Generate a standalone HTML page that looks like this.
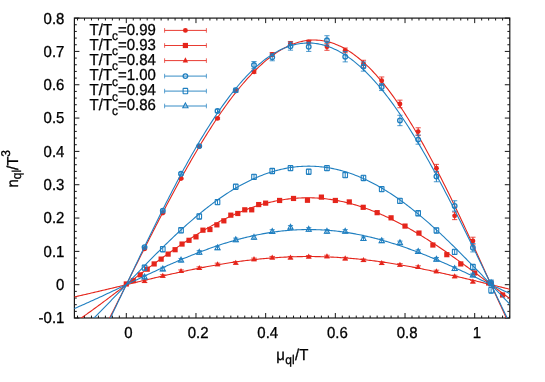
<!DOCTYPE html>
<html><head><meta charset="utf-8"><title>n_ql/T^3 vs mu_ql/T</title>
<style>html,body{margin:0;padding:0;background:#fff;}body{width:545px;height:382px;overflow:hidden;font-family:"Liberation Sans",sans-serif;}svg{display:block;will-change:transform}</style>
</head><body>
<svg width="545" height="382" viewBox="0 0 545 382" font-family="Liberation Sans, sans-serif" font-size="15.84px" text-rendering="geometricPrecision" fill="#000">
<rect width="545" height="382" fill="#fff"/>
<defs><clipPath id="c"><rect x="74.4" y="18.1" width="435.4" height="299.9"/></clipPath></defs>
<path d="M77.52 318.0v-2.4M77.52 18.1v2.4M84.49 318.0v-2.4M84.49 18.1v2.4M91.46 318.0v-2.4M91.46 18.1v2.4M98.43 318.0v-2.4M98.43 18.1v2.4M105.40 318.0v-2.4M105.40 18.1v2.4M112.36 318.0v-2.4M112.36 18.1v2.4M119.33 318.0v-2.4M119.33 18.1v2.4M126.30 318.0v-5M126.30 18.1v5M133.27 318.0v-2.4M133.27 18.1v2.4M140.24 318.0v-2.4M140.24 18.1v2.4M147.20 318.0v-2.4M147.20 18.1v2.4M154.17 318.0v-2.4M154.17 18.1v2.4M161.14 318.0v-2.4M161.14 18.1v2.4M168.11 318.0v-2.4M168.11 18.1v2.4M175.08 318.0v-2.4M175.08 18.1v2.4M182.04 318.0v-2.4M182.04 18.1v2.4M189.01 318.0v-2.4M189.01 18.1v2.4M195.98 318.0v-5M195.98 18.1v5M202.95 318.0v-2.4M202.95 18.1v2.4M209.92 318.0v-2.4M209.92 18.1v2.4M216.88 318.0v-2.4M216.88 18.1v2.4M223.85 318.0v-2.4M223.85 18.1v2.4M230.82 318.0v-2.4M230.82 18.1v2.4M237.79 318.0v-2.4M237.79 18.1v2.4M244.76 318.0v-2.4M244.76 18.1v2.4M251.72 318.0v-2.4M251.72 18.1v2.4M258.69 318.0v-2.4M258.69 18.1v2.4M265.66 318.0v-5M265.66 18.1v5M272.63 318.0v-2.4M272.63 18.1v2.4M279.60 318.0v-2.4M279.60 18.1v2.4M286.56 318.0v-2.4M286.56 18.1v2.4M293.53 318.0v-2.4M293.53 18.1v2.4M300.50 318.0v-2.4M300.50 18.1v2.4M307.47 318.0v-2.4M307.47 18.1v2.4M314.44 318.0v-2.4M314.44 18.1v2.4M321.40 318.0v-2.4M321.40 18.1v2.4M328.37 318.0v-2.4M328.37 18.1v2.4M335.34 318.0v-5M335.34 18.1v5M342.31 318.0v-2.4M342.31 18.1v2.4M349.28 318.0v-2.4M349.28 18.1v2.4M356.24 318.0v-2.4M356.24 18.1v2.4M363.21 318.0v-2.4M363.21 18.1v2.4M370.18 318.0v-2.4M370.18 18.1v2.4M377.15 318.0v-2.4M377.15 18.1v2.4M384.12 318.0v-2.4M384.12 18.1v2.4M391.08 318.0v-2.4M391.08 18.1v2.4M398.05 318.0v-2.4M398.05 18.1v2.4M405.02 318.0v-5M405.02 18.1v5M411.99 318.0v-2.4M411.99 18.1v2.4M418.96 318.0v-2.4M418.96 18.1v2.4M425.92 318.0v-2.4M425.92 18.1v2.4M432.89 318.0v-2.4M432.89 18.1v2.4M439.86 318.0v-2.4M439.86 18.1v2.4M446.83 318.0v-2.4M446.83 18.1v2.4M453.80 318.0v-2.4M453.80 18.1v2.4M460.76 318.0v-2.4M460.76 18.1v2.4M467.73 318.0v-2.4M467.73 18.1v2.4M474.70 318.0v-5M474.70 18.1v5M481.67 318.0v-2.4M481.67 18.1v2.4M488.64 318.0v-2.4M488.64 18.1v2.4M495.60 318.0v-2.4M495.60 18.1v2.4M502.57 318.0v-2.4M502.57 18.1v2.4M509.54 318.0v-2.4M509.54 18.1v2.4M74.4 318.02h5M509.8 318.02h-5M74.4 311.36h2.4M509.8 311.36h-2.4M74.4 304.69h2.4M509.8 304.69h-2.4M74.4 298.03h2.4M509.8 298.03h-2.4M74.4 291.37h2.4M509.8 291.37h-2.4M74.4 284.70h5M509.8 284.70h-5M74.4 278.03h2.4M509.8 278.03h-2.4M74.4 271.37h2.4M509.8 271.37h-2.4M74.4 264.70h2.4M509.8 264.70h-2.4M74.4 258.04h2.4M509.8 258.04h-2.4M74.4 251.38h5M509.8 251.38h-5M74.4 244.71h2.4M509.8 244.71h-2.4M74.4 238.04h2.4M509.8 238.04h-2.4M74.4 231.38h2.4M509.8 231.38h-2.4M74.4 224.71h2.4M509.8 224.71h-2.4M74.4 218.05h5M509.8 218.05h-5M74.4 211.38h2.4M509.8 211.38h-2.4M74.4 204.72h2.4M509.8 204.72h-2.4M74.4 198.06h2.4M509.8 198.06h-2.4M74.4 191.39h2.4M509.8 191.39h-2.4M74.4 184.72h5M509.8 184.72h-5M74.4 178.06h2.4M509.8 178.06h-2.4M74.4 171.39h2.4M509.8 171.39h-2.4M74.4 164.73h2.4M509.8 164.73h-2.4M74.4 158.06h2.4M509.8 158.06h-2.4M74.4 151.40h5M509.8 151.40h-5M74.4 144.73h2.4M509.8 144.73h-2.4M74.4 138.07h2.4M509.8 138.07h-2.4M74.4 131.40h2.4M509.8 131.40h-2.4M74.4 124.74h2.4M509.8 124.74h-2.4M74.4 118.07h5M509.8 118.07h-5M74.4 111.41h2.4M509.8 111.41h-2.4M74.4 104.74h2.4M509.8 104.74h-2.4M74.4 98.08h2.4M509.8 98.08h-2.4M74.4 91.41h2.4M509.8 91.41h-2.4M74.4 84.75h5M509.8 84.75h-5M74.4 78.08h2.4M509.8 78.08h-2.4M74.4 71.42h2.4M509.8 71.42h-2.4M74.4 64.75h2.4M509.8 64.75h-2.4M74.4 58.09h2.4M509.8 58.09h-2.4M74.4 51.42h5M509.8 51.42h-5M74.4 44.76h2.4M509.8 44.76h-2.4M74.4 38.09h2.4M509.8 38.09h-2.4M74.4 31.43h2.4M509.8 31.43h-2.4M74.4 24.76h2.4M509.8 24.76h-2.4M74.4 18.10h5M509.8 18.10h-5" stroke="#161616" stroke-width="1" fill="none"/>
<rect x="74.4" y="18.1" width="435.4" height="299.9" fill="none" stroke="#161616" stroke-width="1.2"/>
<text transform="translate(128.40 338.40) scale(0.945 1)" text-anchor="middle" stroke="#000" stroke-width="0.3">0</text>
<text transform="translate(198.08 338.40) scale(0.945 1)" text-anchor="middle" stroke="#000" stroke-width="0.3">0.2</text>
<text transform="translate(267.76 338.40) scale(0.945 1)" text-anchor="middle" stroke="#000" stroke-width="0.3">0.4</text>
<text transform="translate(337.44 338.40) scale(0.945 1)" text-anchor="middle" stroke="#000" stroke-width="0.3">0.6</text>
<text transform="translate(407.12 338.40) scale(0.945 1)" text-anchor="middle" stroke="#000" stroke-width="0.3">0.8</text>
<text transform="translate(476.80 338.40) scale(0.945 1)" text-anchor="middle" stroke="#000" stroke-width="0.3">1</text>
<text transform="translate(64.40 323.42) scale(0.945 1)" text-anchor="end" stroke="#000" stroke-width="0.3">-0.1</text>
<text transform="translate(64.40 290.10) scale(0.945 1)" text-anchor="end" stroke="#000" stroke-width="0.3">0</text>
<text transform="translate(64.40 256.77) scale(0.945 1)" text-anchor="end" stroke="#000" stroke-width="0.3">0.1</text>
<text transform="translate(64.40 223.45) scale(0.945 1)" text-anchor="end" stroke="#000" stroke-width="0.3">0.2</text>
<text transform="translate(64.40 190.12) scale(0.945 1)" text-anchor="end" stroke="#000" stroke-width="0.3">0.3</text>
<text transform="translate(64.40 156.80) scale(0.945 1)" text-anchor="end" stroke="#000" stroke-width="0.3">0.4</text>
<text transform="translate(64.40 123.47) scale(0.945 1)" text-anchor="end" stroke="#000" stroke-width="0.3">0.5</text>
<text transform="translate(64.40 90.15) scale(0.945 1)" text-anchor="end" stroke="#000" stroke-width="0.3">0.6</text>
<text transform="translate(64.40 56.83) scale(0.945 1)" text-anchor="end" stroke="#000" stroke-width="0.3">0.7</text>
<text transform="translate(64.40 23.50) scale(0.945 1)" text-anchor="end" stroke="#000" stroke-width="0.3">0.8</text>
<text transform="translate(276.20 359.80) scale(0.945 1)" text-anchor="start" stroke="#000" stroke-width="0.3">μ<tspan dx="0.5" dy="3.8" font-size="12.7px">ql</tspan><tspan dx="0.5" dy="-3.8">/T</tspan></text>
<text transform="translate(17.50 187.60) rotate(-90) scale(0.945 1)" text-anchor="start" stroke="#000" stroke-width="0.3">n<tspan dy="3.8" font-size="12.7px">ql</tspan><tspan dy="-3.8">/T</tspan><tspan dy="-7.4" font-size="12.7px">3</tspan></text>
<g clip-path="url(#c)">
<path d="M144.54 248.49V249.29" stroke="#e5251b" stroke-width="1" fill="none"/><path d="M141.94 248.49h5.2M141.94 249.29h5.2" stroke="#e5251b" stroke-width="0.8" fill="none"/><path d="M162.78 212.49V213.49" stroke="#e5251b" stroke-width="1" fill="none"/><path d="M160.18 212.49h5.2M160.18 213.49h5.2" stroke="#e5251b" stroke-width="0.8" fill="none"/><path d="M181.03 177.99V179.19" stroke="#e5251b" stroke-width="1" fill="none"/><path d="M178.43 177.99h5.2M178.43 179.19h5.2" stroke="#e5251b" stroke-width="0.8" fill="none"/><path d="M199.27 145.82V147.22" stroke="#e5251b" stroke-width="1" fill="none"/><path d="M196.67 145.82h5.2M196.67 147.22h5.2" stroke="#e5251b" stroke-width="0.8" fill="none"/><path d="M217.51 117.50V119.30" stroke="#e5251b" stroke-width="1" fill="none"/><path d="M214.91 117.50h5.2M214.91 119.30h5.2" stroke="#e5251b" stroke-width="0.8" fill="none"/><path d="M235.75 89.81V92.01" stroke="#e5251b" stroke-width="1" fill="none"/><path d="M233.15 89.81h5.2M233.15 92.01h5.2" stroke="#e5251b" stroke-width="0.8" fill="none"/><path d="M254.00 70.24V73.24" stroke="#e5251b" stroke-width="1" fill="none"/><path d="M251.40 70.24h5.2M251.40 73.24h5.2" stroke="#e5251b" stroke-width="0.8" fill="none"/><path d="M272.24 52.51V56.51" stroke="#e5251b" stroke-width="1" fill="none"/><path d="M269.64 52.51h5.2M269.64 56.51h5.2" stroke="#e5251b" stroke-width="0.8" fill="none"/><path d="M290.48 41.48V45.48" stroke="#e5251b" stroke-width="1" fill="none"/><path d="M287.88 41.48h5.2M287.88 45.48h5.2" stroke="#e5251b" stroke-width="0.8" fill="none"/><path d="M308.72 40.18V43.78" stroke="#e5251b" stroke-width="1" fill="none"/><path d="M306.12 40.18h5.2M306.12 43.78h5.2" stroke="#e5251b" stroke-width="0.8" fill="none"/><path d="M326.96 43.32V50.32" stroke="#e5251b" stroke-width="1" fill="none"/><path d="M324.36 43.32h5.2M324.36 50.32h5.2" stroke="#e5251b" stroke-width="0.8" fill="none"/><path d="M345.21 48.00V52.80" stroke="#e5251b" stroke-width="1" fill="none"/><path d="M342.61 48.00h5.2M342.61 52.80h5.2" stroke="#e5251b" stroke-width="0.8" fill="none"/><path d="M363.45 60.29V67.69" stroke="#e5251b" stroke-width="1" fill="none"/><path d="M360.85 60.29h5.2M360.85 67.69h5.2" stroke="#e5251b" stroke-width="0.8" fill="none"/><path d="M381.69 76.96V84.56" stroke="#e5251b" stroke-width="1" fill="none"/><path d="M379.09 76.96h5.2M379.09 84.56h5.2" stroke="#e5251b" stroke-width="0.8" fill="none"/><path d="M399.93 100.14V107.74" stroke="#e5251b" stroke-width="1" fill="none"/><path d="M397.33 100.14h5.2M397.33 107.74h5.2" stroke="#e5251b" stroke-width="0.8" fill="none"/><path d="M418.17 127.79V135.39" stroke="#e5251b" stroke-width="1" fill="none"/><path d="M415.57 127.79h5.2M415.57 135.39h5.2" stroke="#e5251b" stroke-width="0.8" fill="none"/><path d="M436.42 164.37V171.97" stroke="#e5251b" stroke-width="1" fill="none"/><path d="M433.82 164.37h5.2M433.82 171.97h5.2" stroke="#e5251b" stroke-width="0.8" fill="none"/><path d="M454.66 212.03V219.63" stroke="#e5251b" stroke-width="1" fill="none"/><path d="M452.06 212.03h5.2M452.06 219.63h5.2" stroke="#e5251b" stroke-width="0.8" fill="none"/><path d="M472.90 237.21V244.81" stroke="#e5251b" stroke-width="1" fill="none"/><path d="M470.30 237.21h5.2M470.30 244.81h5.2" stroke="#e5251b" stroke-width="0.8" fill="none"/><path d="M491.14 280.96V284.96" stroke="#e5251b" stroke-width="1" fill="none"/><path d="M488.54 280.96h5.2M488.54 284.96h5.2" stroke="#e5251b" stroke-width="0.8" fill="none"/><polyline points="70.56,392.81 72.03,390.14 73.51,387.44 74.98,384.74 76.46,382.02 77.93,379.29 79.41,376.54 80.88,373.78 82.36,371.01 83.83,368.23 85.30,365.43 86.78,362.63 88.25,359.81 89.73,356.98 91.20,354.15 92.68,351.30 94.15,348.44 95.63,345.58 97.10,342.70 98.58,339.82 100.05,336.93 101.53,334.04 103.00,331.14 104.48,328.23 105.95,325.31 107.43,322.39 108.90,319.46 110.38,316.53 111.85,313.60 113.33,310.66 114.80,307.72 116.28,304.77 117.75,301.82 119.23,298.87 120.70,295.92 122.18,292.96 123.65,290.01 125.13,287.05 126.60,284.09 128.08,281.14 129.55,278.18 131.03,275.23 132.50,272.27 133.98,269.32 135.45,266.37 136.93,263.42 138.40,260.48 139.88,257.54 141.35,254.60 142.83,251.67 144.30,248.74 145.78,245.81 147.25,242.90 148.73,239.98 150.20,237.08 151.68,234.18 153.15,231.28 154.62,228.40 156.10,225.52 157.57,222.65 159.05,219.79 160.52,216.93 162.00,214.09 163.47,211.26 164.95,208.44 166.42,205.62 167.90,202.82 169.37,200.03 170.85,197.25 172.32,194.49 173.80,191.73 175.27,188.99 176.75,186.27 178.22,183.55 179.70,180.85 181.17,178.17 182.65,175.50 184.12,172.84 185.60,170.20 187.07,167.58 188.55,164.97 190.02,162.38 191.50,159.81 192.97,157.26 194.45,154.72 195.92,152.20 197.40,149.70 198.87,147.22 200.35,144.76 201.82,142.32 203.30,139.90 204.77,137.50 206.25,135.12 207.72,132.76 209.20,130.42 210.67,128.11 212.15,125.82 213.62,123.55 215.10,121.30 216.57,119.08 218.05,116.88 219.52,114.71 221.00,112.56 222.47,110.44 223.94,108.34 225.42,106.26 226.89,104.22 228.37,102.20 229.84,100.20 231.32,98.23 232.79,96.29 234.27,94.38 235.74,92.50 237.22,90.64 238.69,88.81 240.17,87.02 241.64,85.25 243.12,83.51 244.59,81.80 246.07,80.12 247.54,78.47 249.02,76.85 250.49,75.27 251.97,73.71 253.44,72.19 254.92,70.70 256.39,69.24 257.87,67.81 259.34,66.41 260.82,65.05 262.29,63.73 263.77,62.43 265.24,61.17 266.72,59.95 268.19,58.75 269.67,57.60 271.14,56.48 272.62,55.39 274.09,54.34 275.57,53.32 277.04,52.34 278.52,51.40 279.99,50.49 281.47,49.62 282.94,48.78 284.42,47.98 285.89,47.22 287.37,46.50 288.84,45.81 290.32,45.17 291.79,44.55 293.26,43.98 294.74,43.45 296.21,42.95 297.69,42.49 299.16,42.07 300.64,41.69 302.11,41.35 303.59,41.04 305.06,40.78 306.54,40.56 308.01,40.37 309.49,40.22 310.96,40.12 312.44,40.05 313.91,40.02 315.39,40.03 316.86,40.08 318.34,40.18 319.81,40.31 321.29,40.48 322.76,40.69 324.24,40.94 325.71,41.23 327.19,41.56 328.66,41.94 330.14,42.35 331.61,42.80 333.09,43.29 334.56,43.82 336.04,44.40 337.51,45.01 338.99,45.66 340.46,46.35 341.94,47.08 343.41,47.86 344.89,48.67 346.36,49.52 347.84,50.41 349.31,51.34 350.79,52.31 352.26,53.32 353.74,54.37 355.21,55.45 356.69,56.58 358.16,57.75 359.64,58.95 361.11,60.19 362.58,61.47 364.06,62.79 365.53,64.15 367.01,65.55 368.48,66.98 369.96,68.45 371.43,69.96 372.91,71.50 374.38,73.08 375.86,74.70 377.33,76.36 378.81,78.05 380.28,79.78 381.76,81.54 383.23,83.34 384.71,85.17 386.18,87.04 387.66,88.94 389.13,90.88 390.61,92.85 392.08,94.86 393.56,96.89 395.03,98.97 396.51,101.07 397.98,103.21 399.46,105.37 400.93,107.58 402.41,109.81 403.88,112.07 405.36,114.36 406.83,116.69 408.31,119.04 409.78,121.42 411.26,123.84 412.73,126.28 414.21,128.75 415.68,131.24 417.16,133.77 418.63,136.32 420.11,138.90 421.58,141.50 423.06,144.13 424.53,146.79 426.01,149.47 427.48,152.17 428.96,154.90 430.43,157.65 431.90,160.43 433.38,163.22 434.85,166.04 436.33,168.88 437.80,171.74 439.28,174.63 440.75,177.53 442.23,180.45 443.70,183.39 445.18,186.35 446.65,189.32 448.13,192.32 449.60,195.33 451.08,198.35 452.55,201.40 454.03,204.45 455.50,207.53 456.98,210.61 458.45,213.71 459.93,216.82 461.40,219.95 462.88,223.09 464.35,226.23 465.83,229.39 467.30,232.56 468.78,235.74 470.25,238.93 471.73,242.12 473.20,245.33 474.68,248.54 476.15,251.76 477.63,254.98 479.10,258.21 480.58,261.44 482.05,264.68 483.53,267.92 485.00,271.17 486.48,274.41 487.95,277.66 489.43,280.91 490.90,284.16 492.38,287.42 493.85,290.67 495.33,293.92 496.80,297.16 498.28,300.41 499.75,303.65 501.22,306.89 502.70,310.13 504.17,313.36 505.65,316.58 507.12,319.80 508.60,323.01 510.07,326.22 511.55,329.42 513.02,332.61" fill="none" stroke="#e5251b" stroke-width="1.1" stroke-linejoin="round"/><circle cx="144.54" cy="248.89" r="2.45" fill="#e5251b"/><circle cx="162.78" cy="212.99" r="2.45" fill="#e5251b"/><circle cx="181.03" cy="178.59" r="2.45" fill="#e5251b"/><circle cx="199.27" cy="146.52" r="2.45" fill="#e5251b"/><circle cx="217.51" cy="118.40" r="2.45" fill="#e5251b"/><circle cx="235.75" cy="90.91" r="2.45" fill="#e5251b"/><circle cx="254.00" cy="71.74" r="2.45" fill="#e5251b"/><circle cx="272.24" cy="54.51" r="2.45" fill="#e5251b"/><circle cx="290.48" cy="43.48" r="2.45" fill="#e5251b"/><circle cx="308.72" cy="41.98" r="2.45" fill="#e5251b"/><circle cx="326.96" cy="46.82" r="2.45" fill="#e5251b"/><circle cx="345.21" cy="50.40" r="2.45" fill="#e5251b"/><circle cx="363.45" cy="63.99" r="2.45" fill="#e5251b"/><circle cx="381.69" cy="80.76" r="2.45" fill="#e5251b"/><circle cx="399.93" cy="103.94" r="2.45" fill="#e5251b"/><circle cx="418.17" cy="131.59" r="2.45" fill="#e5251b"/><circle cx="436.42" cy="168.17" r="2.45" fill="#e5251b"/><circle cx="454.66" cy="215.83" r="2.45" fill="#e5251b"/><circle cx="472.90" cy="241.01" r="2.45" fill="#e5251b"/><circle cx="491.14" cy="282.96" r="2.45" fill="#e5251b"/>
<polyline points="70.56,325.36 72.03,324.36 73.51,323.37 74.98,322.36 76.46,321.35 77.93,320.34 79.41,319.32 80.88,318.29 82.36,317.25 83.83,316.21 85.30,315.17 86.78,314.12 88.25,313.06 89.73,312.00 91.20,310.94 92.68,309.87 94.15,308.80 95.63,307.72 97.10,306.64 98.58,305.55 100.05,304.46 101.53,303.37 103.00,302.28 104.48,301.18 105.95,300.08 107.43,298.97 108.90,297.87 110.38,296.76 111.85,295.65 113.33,294.54 114.80,293.42 116.28,292.31 117.75,291.19 119.23,290.07 120.70,288.95 122.18,287.83 123.65,286.71 125.13,285.59 126.60,284.47 128.08,283.35 129.55,282.23 131.03,281.11 132.50,279.99 133.98,278.87 135.45,277.75 136.93,276.64 138.40,275.52 139.88,274.41 141.35,273.30 142.83,272.19 144.30,271.08 145.78,269.97 147.25,268.87 148.73,267.77 150.20,266.68 151.68,265.58 153.15,264.49 154.62,263.40 156.10,262.32 157.57,261.24 159.05,260.16 160.52,259.09 162.00,258.02 163.47,256.96 164.95,255.90 166.42,254.85 167.90,253.80 169.37,252.76 170.85,251.72 172.32,250.69 173.80,249.67 175.27,248.65 176.75,247.63 178.22,246.62 179.70,245.62 181.17,244.63 182.65,243.64 184.12,242.66 185.60,241.69 187.07,240.72 188.55,239.76 190.02,238.81 191.50,237.87 192.97,236.93 194.45,236.00 195.92,235.08 197.40,234.17 198.87,233.27 200.35,232.38 201.82,231.49 203.30,230.62 204.77,229.75 206.25,228.89 207.72,228.04 209.20,227.20 210.67,226.37 212.15,225.55 213.62,224.74 215.10,223.94 216.57,223.15 218.05,222.37 219.52,221.61 221.00,220.85 222.47,220.10 223.94,219.36 225.42,218.63 226.89,217.92 228.37,217.21 229.84,216.52 231.32,215.84 232.79,215.17 234.27,214.51 235.74,213.86 237.22,213.23 238.69,212.60 240.17,211.99 241.64,211.39 243.12,210.80 244.59,210.22 246.07,209.66 247.54,209.11 249.02,208.57 250.49,208.04 251.97,207.53 253.44,207.02 254.92,206.54 256.39,206.06 257.87,205.59 259.34,205.14 260.82,204.71 262.29,204.28 263.77,203.87 265.24,203.47 266.72,203.08 268.19,202.71 269.67,202.35 271.14,202.01 272.62,201.67 274.09,201.36 275.57,201.05 277.04,200.76 278.52,200.48 279.99,200.21 281.47,199.96 282.94,199.72 284.42,199.50 285.89,199.29 287.37,199.09 288.84,198.91 290.32,198.74 291.79,198.58 293.26,198.44 294.74,198.31 296.21,198.20 297.69,198.10 299.16,198.01 300.64,197.94 302.11,197.88 303.59,197.84 305.06,197.81 306.54,197.79 308.01,197.79 309.49,197.80 310.96,197.82 312.44,197.86 313.91,197.91 315.39,197.98 316.86,198.06 318.34,198.15 319.81,198.26 321.29,198.38 322.76,198.51 324.24,198.66 325.71,198.82 327.19,199.00 328.66,199.19 330.14,199.39 331.61,199.60 333.09,199.83 334.56,200.08 336.04,200.33 337.51,200.60 338.99,200.89 340.46,201.18 341.94,201.49 343.41,201.82 344.89,202.15 346.36,202.50 347.84,202.87 349.31,203.24 350.79,203.63 352.26,204.03 353.74,204.45 355.21,204.87 356.69,205.31 358.16,205.76 359.64,206.23 361.11,206.71 362.58,207.19 364.06,207.70 365.53,208.21 367.01,208.74 368.48,209.27 369.96,209.82 371.43,210.39 372.91,210.96 374.38,211.55 375.86,212.14 377.33,212.75 378.81,213.37 380.28,214.01 381.76,214.65 383.23,215.30 384.71,215.97 386.18,216.64 387.66,217.33 389.13,218.03 390.61,218.74 392.08,219.46 393.56,220.19 395.03,220.93 396.51,221.68 397.98,222.44 399.46,223.21 400.93,223.99 402.41,224.77 403.88,225.57 405.36,226.38 406.83,227.20 408.31,228.03 409.78,228.86 411.26,229.71 412.73,230.56 414.21,231.43 415.68,232.30 417.16,233.18 418.63,234.07 420.11,234.96 421.58,235.87 423.06,236.78 424.53,237.70 426.01,238.62 427.48,239.56 428.96,240.50 430.43,241.45 431.90,242.41 433.38,243.37 434.85,244.34 436.33,245.32 437.80,246.30 439.28,247.29 440.75,248.28 442.23,249.28 443.70,250.29 445.18,251.30 446.65,252.32 448.13,253.34 449.60,254.37 451.08,255.40 452.55,256.44 454.03,257.48 455.50,258.53 456.98,259.58 458.45,260.63 459.93,261.69 461.40,262.75 462.88,263.82 464.35,264.89 465.83,265.96 467.30,267.04 468.78,268.12 470.25,269.20 471.73,270.28 473.20,271.37 474.68,272.46 476.15,273.55 477.63,274.64 479.10,275.73 480.58,276.83 482.05,277.92 483.53,279.02 485.00,280.12 486.48,281.22 487.95,282.32 489.43,283.42 490.90,284.52 492.38,285.62 493.85,286.72 495.33,287.82 496.80,288.92 498.28,290.02 499.75,291.12 501.22,292.21 502.70,293.31 504.17,294.40 505.65,295.49 507.12,296.59 508.60,297.67 510.07,298.76 511.55,299.85 513.02,300.93" fill="none" stroke="#e5251b" stroke-width="1.1" stroke-linejoin="round"/><rect x="123.70" y="281.36" width="5.2" height="5.2" fill="#e5251b"/><rect x="130.67" y="278.09" width="5.2" height="5.2" fill="#e5251b"/><rect x="137.64" y="272.21" width="5.2" height="5.2" fill="#e5251b"/><rect x="144.60" y="266.57" width="5.2" height="5.2" fill="#e5251b"/><rect x="151.57" y="261.32" width="5.2" height="5.2" fill="#e5251b"/><rect x="158.54" y="256.51" width="5.2" height="5.2" fill="#e5251b"/><rect x="165.51" y="251.50" width="5.2" height="5.2" fill="#e5251b"/><rect x="172.48" y="247.10" width="5.2" height="5.2" fill="#e5251b"/><rect x="179.44" y="241.45" width="5.2" height="5.2" fill="#e5251b"/><rect x="186.41" y="237.71" width="5.2" height="5.2" fill="#e5251b"/><rect x="193.38" y="234.27" width="5.2" height="5.2" fill="#e5251b"/><rect x="200.35" y="227.59" width="5.2" height="5.2" fill="#e5251b"/><rect x="207.32" y="226.92" width="5.2" height="5.2" fill="#e5251b"/><rect x="214.28" y="222.25" width="5.2" height="5.2" fill="#e5251b"/><rect x="221.25" y="218.24" width="5.2" height="5.2" fill="#e5251b"/><rect x="228.22" y="212.56" width="5.2" height="5.2" fill="#e5251b"/><rect x="235.19" y="210.89" width="5.2" height="5.2" fill="#e5251b"/><rect x="242.16" y="207.22" width="5.2" height="5.2" fill="#e5251b"/><rect x="249.12" y="207.22" width="5.2" height="5.2" fill="#e5251b"/><rect x="256.09" y="201.97" width="5.2" height="5.2" fill="#e5251b"/><rect x="263.06" y="200.54" width="5.2" height="5.2" fill="#e5251b"/><rect x="277.00" y="197.86" width="5.2" height="5.2" fill="#e5251b"/><rect x="290.93" y="195.86" width="5.2" height="5.2" fill="#e5251b"/><rect x="304.87" y="197.66" width="5.2" height="5.2" fill="#e5251b"/><rect x="318.80" y="194.52" width="5.2" height="5.2" fill="#e5251b"/><rect x="332.74" y="197.86" width="5.2" height="5.2" fill="#e5251b"/><rect x="346.68" y="199.33" width="5.2" height="5.2" fill="#e5251b"/><rect x="360.61" y="204.71" width="5.2" height="5.2" fill="#e5251b"/><rect x="374.55" y="210.06" width="5.2" height="5.2" fill="#e5251b"/><rect x="388.48" y="215.23" width="5.2" height="5.2" fill="#e5251b"/><rect x="402.42" y="223.48" width="5.2" height="5.2" fill="#e5251b"/><rect x="416.36" y="230.46" width="5.2" height="5.2" fill="#e5251b"/><rect x="430.29" y="242.42" width="5.2" height="5.2" fill="#e5251b"/><rect x="444.23" y="252.07" width="5.2" height="5.2" fill="#e5251b"/><rect x="458.16" y="261.32" width="5.2" height="5.2" fill="#e5251b"/><rect x="472.10" y="270.34" width="5.2" height="5.2" fill="#e5251b"/><rect x="486.04" y="280.36" width="5.2" height="5.2" fill="#e5251b"/><rect x="499.97" y="292.39" width="5.2" height="5.2" fill="#e5251b"/>
<path d="M144.54 279.99V282.59" stroke="#e5251b" stroke-width="1" fill="none"/><path d="M141.74 279.99h5.6M141.74 282.59h5.6" stroke="#e5251b" stroke-width="0.8" fill="none"/><path d="M162.78 274.71V277.31" stroke="#e5251b" stroke-width="1" fill="none"/><path d="M159.98 274.71h5.6M159.98 277.31h5.6" stroke="#e5251b" stroke-width="0.8" fill="none"/><path d="M181.03 269.91V272.51" stroke="#e5251b" stroke-width="1" fill="none"/><path d="M178.23 269.91h5.6M178.23 272.51h5.6" stroke="#e5251b" stroke-width="0.8" fill="none"/><path d="M199.27 266.90V269.50" stroke="#e5251b" stroke-width="1" fill="none"/><path d="M196.47 266.90h5.6M196.47 269.50h5.6" stroke="#e5251b" stroke-width="0.8" fill="none"/><path d="M217.51 263.16V265.76" stroke="#e5251b" stroke-width="1" fill="none"/><path d="M214.71 263.16h5.6M214.71 265.76h5.6" stroke="#e5251b" stroke-width="0.8" fill="none"/><path d="M235.75 261.66V264.26" stroke="#e5251b" stroke-width="1" fill="none"/><path d="M232.95 261.66h5.6M232.95 264.26h5.6" stroke="#e5251b" stroke-width="0.8" fill="none"/><path d="M254.00 258.12V260.72" stroke="#e5251b" stroke-width="1" fill="none"/><path d="M251.20 258.12h5.6M251.20 260.72h5.6" stroke="#e5251b" stroke-width="0.8" fill="none"/><path d="M272.24 256.44V259.05" stroke="#e5251b" stroke-width="1" fill="none"/><path d="M269.44 256.44h5.6M269.44 259.05h5.6" stroke="#e5251b" stroke-width="0.8" fill="none"/><path d="M290.48 256.44V259.05" stroke="#e5251b" stroke-width="1" fill="none"/><path d="M287.68 256.44h5.6M287.68 259.05h5.6" stroke="#e5251b" stroke-width="0.8" fill="none"/><path d="M308.72 255.51V258.11" stroke="#e5251b" stroke-width="1" fill="none"/><path d="M305.92 255.51h5.6M305.92 258.11h5.6" stroke="#e5251b" stroke-width="0.8" fill="none"/><path d="M326.96 255.24V257.84" stroke="#e5251b" stroke-width="1" fill="none"/><path d="M324.16 255.24h5.6M324.16 257.84h5.6" stroke="#e5251b" stroke-width="0.8" fill="none"/><path d="M345.21 257.35V259.95" stroke="#e5251b" stroke-width="1" fill="none"/><path d="M342.41 257.35h5.6M342.41 259.95h5.6" stroke="#e5251b" stroke-width="0.8" fill="none"/><path d="M363.45 259.02V261.62" stroke="#e5251b" stroke-width="1" fill="none"/><path d="M360.65 259.02h5.6M360.65 261.62h5.6" stroke="#e5251b" stroke-width="0.8" fill="none"/><path d="M381.69 261.96V264.56" stroke="#e5251b" stroke-width="1" fill="none"/><path d="M378.89 261.96h5.6M378.89 264.56h5.6" stroke="#e5251b" stroke-width="0.8" fill="none"/><path d="M399.93 263.63V266.23" stroke="#e5251b" stroke-width="1" fill="none"/><path d="M397.13 263.63h5.6M397.13 266.23h5.6" stroke="#e5251b" stroke-width="0.8" fill="none"/><path d="M418.17 265.80V268.40" stroke="#e5251b" stroke-width="1" fill="none"/><path d="M415.37 265.80h5.6M415.37 268.40h5.6" stroke="#e5251b" stroke-width="0.8" fill="none"/><path d="M436.42 270.21V272.81" stroke="#e5251b" stroke-width="1" fill="none"/><path d="M433.62 270.21h5.6M433.62 272.81h5.6" stroke="#e5251b" stroke-width="0.8" fill="none"/><path d="M454.66 275.22V277.82" stroke="#e5251b" stroke-width="1" fill="none"/><path d="M451.86 275.22h5.6M451.86 277.82h5.6" stroke="#e5251b" stroke-width="0.8" fill="none"/><path d="M472.90 280.46V283.06" stroke="#e5251b" stroke-width="1" fill="none"/><path d="M470.10 280.46h5.6M470.10 283.06h5.6" stroke="#e5251b" stroke-width="0.8" fill="none"/><path d="M491.14 282.66V285.26" stroke="#e5251b" stroke-width="1" fill="none"/><path d="M488.34 282.66h5.6M488.34 285.26h5.6" stroke="#e5251b" stroke-width="0.8" fill="none"/><polyline points="70.56,297.70 72.03,297.39 73.51,297.06 74.98,296.74 76.46,296.42 77.93,296.09 79.41,295.76 80.88,295.43 82.36,295.10 83.83,294.77 85.30,294.44 86.78,294.10 88.25,293.76 89.73,293.42 91.20,293.08 92.68,292.74 94.15,292.40 95.63,292.05 97.10,291.70 98.58,291.36 100.05,291.01 101.53,290.66 103.00,290.31 104.48,289.96 105.95,289.61 107.43,289.26 108.90,288.90 110.38,288.55 111.85,288.19 113.33,287.84 114.80,287.48 116.28,287.13 117.75,286.77 119.23,286.41 120.70,286.06 122.18,285.70 123.65,285.34 125.13,284.98 126.60,284.63 128.08,284.27 129.55,283.91 131.03,283.55 132.50,283.20 133.98,282.84 135.45,282.48 136.93,282.13 138.40,281.77 139.88,281.42 141.35,281.06 142.83,280.71 144.30,280.35 145.78,280.00 147.25,279.65 148.73,279.30 150.20,278.95 151.68,278.60 153.15,278.25 154.62,277.90 156.10,277.55 157.57,277.21 159.05,276.86 160.52,276.52 162.00,276.18 163.47,275.84 164.95,275.50 166.42,275.16 167.90,274.83 169.37,274.49 170.85,274.16 172.32,273.83 173.80,273.50 175.27,273.17 176.75,272.85 178.22,272.53 179.70,272.20 181.17,271.88 182.65,271.57 184.12,271.25 185.60,270.94 187.07,270.63 188.55,270.32 190.02,270.01 191.50,269.71 192.97,269.41 194.45,269.11 195.92,268.81 197.40,268.52 198.87,268.23 200.35,267.94 201.82,267.65 203.30,267.37 204.77,267.09 206.25,266.81 207.72,266.54 209.20,266.26 210.67,265.99 212.15,265.73 213.62,265.47 215.10,265.21 216.57,264.95 218.05,264.70 219.52,264.45 221.00,264.20 222.47,263.96 223.94,263.72 225.42,263.48 226.89,263.25 228.37,263.02 229.84,262.79 231.32,262.57 232.79,262.35 234.27,262.13 235.74,261.92 237.22,261.71 238.69,261.51 240.17,261.31 241.64,261.11 243.12,260.92 244.59,260.73 246.07,260.54 247.54,260.36 249.02,260.18 250.49,260.01 251.97,259.84 253.44,259.67 254.92,259.51 256.39,259.35 257.87,259.20 259.34,259.05 260.82,258.90 262.29,258.76 263.77,258.62 265.24,258.49 266.72,258.36 268.19,258.24 269.67,258.12 271.14,258.00 272.62,257.89 274.09,257.78 275.57,257.68 277.04,257.58 278.52,257.49 279.99,257.40 281.47,257.31 282.94,257.23 284.42,257.15 285.89,257.08 287.37,257.02 288.84,256.95 290.32,256.89 291.79,256.84 293.26,256.79 294.74,256.74 296.21,256.70 297.69,256.67 299.16,256.64 300.64,256.61 302.11,256.59 303.59,256.57 305.06,256.55 306.54,256.55 308.01,256.54 309.49,256.54 310.96,256.55 312.44,256.55 313.91,256.57 315.39,256.59 316.86,256.61 318.34,256.64 319.81,256.67 321.29,256.71 322.76,256.75 324.24,256.79 325.71,256.84 327.19,256.90 328.66,256.95 330.14,257.02 331.61,257.09 333.09,257.16 334.56,257.23 336.04,257.32 337.51,257.40 338.99,257.49 340.46,257.59 341.94,257.68 343.41,257.79 344.89,257.89 346.36,258.01 347.84,258.12 349.31,258.24 350.79,258.37 352.26,258.50 353.74,258.63 355.21,258.77 356.69,258.91 358.16,259.05 359.64,259.20 361.11,259.36 362.58,259.52 364.06,259.68 365.53,259.84 367.01,260.01 368.48,260.19 369.96,260.37 371.43,260.55 372.91,260.73 374.38,260.92 375.86,261.12 377.33,261.31 378.81,261.51 380.28,261.72 381.76,261.93 383.23,262.14 384.71,262.36 386.18,262.58 387.66,262.80 389.13,263.03 390.61,263.26 392.08,263.49 393.56,263.73 395.03,263.97 396.51,264.21 397.98,264.46 399.46,264.71 400.93,264.96 402.41,265.22 403.88,265.48 405.36,265.74 406.83,266.01 408.31,266.27 409.78,266.55 411.26,266.82 412.73,267.10 414.21,267.38 415.68,267.66 417.16,267.95 418.63,268.24 420.11,268.53 421.58,268.82 423.06,269.12 424.53,269.42 426.01,269.72 427.48,270.02 428.96,270.33 430.43,270.64 431.90,270.95 433.38,271.26 434.85,271.58 436.33,271.90 437.80,272.22 439.28,272.54 440.75,272.86 442.23,273.19 443.70,273.51 445.18,273.84 446.65,274.17 448.13,274.51 449.60,274.84 451.08,275.18 452.55,275.51 454.03,275.85 455.50,276.19 456.98,276.53 458.45,276.88 459.93,277.22 461.40,277.57 462.88,277.91 464.35,278.26 465.83,278.61 467.30,278.96 468.78,279.31 470.25,279.66 471.73,280.01 473.20,280.37 474.68,280.72 476.15,281.07 477.63,281.43 479.10,281.79 480.58,282.14 482.05,282.50 483.53,282.85 485.00,283.21 486.48,283.57 487.95,283.93 489.43,284.28 490.90,284.64 492.38,285.00 493.85,285.36 495.33,285.71 496.80,286.07 498.28,286.43 499.75,286.78 501.22,287.14 502.70,287.50 504.17,287.85 505.65,288.21 507.12,288.56 508.60,288.92 510.07,289.27 511.55,289.62 513.02,289.97" fill="none" stroke="#e5251b" stroke-width="1.1" stroke-linejoin="round"/><path d="M144.54 277.99L147.24 283.09H141.84Z" fill="#e5251b"/><path d="M162.78 272.71L165.48 277.81H160.08Z" fill="#e5251b"/><path d="M181.03 267.91L183.73 273.01H178.33Z" fill="#e5251b"/><path d="M199.27 264.90L201.97 270.00H196.57Z" fill="#e5251b"/><path d="M217.51 261.16L220.21 266.26H214.81Z" fill="#e5251b"/><path d="M235.75 259.66L238.45 264.76H233.05Z" fill="#e5251b"/><path d="M254.00 256.12L256.70 261.22H251.30Z" fill="#e5251b"/><path d="M272.24 254.44L274.94 259.55H269.54Z" fill="#e5251b"/><path d="M290.48 254.44L293.18 259.55H287.78Z" fill="#e5251b"/><path d="M308.72 253.51L311.42 258.61H306.02Z" fill="#e5251b"/><path d="M326.96 253.24L329.66 258.34H324.26Z" fill="#e5251b"/><path d="M345.21 255.35L347.91 260.45H342.51Z" fill="#e5251b"/><path d="M363.45 257.02L366.15 262.12H360.75Z" fill="#e5251b"/><path d="M381.69 259.96L384.39 265.06H378.99Z" fill="#e5251b"/><path d="M399.93 261.63L402.63 266.73H397.23Z" fill="#e5251b"/><path d="M418.17 263.80L420.87 268.90H415.47Z" fill="#e5251b"/><path d="M436.42 268.21L439.12 273.31H433.72Z" fill="#e5251b"/><path d="M454.66 273.22L457.36 278.32H451.96Z" fill="#e5251b"/><path d="M472.90 278.46L475.60 283.56H470.20Z" fill="#e5251b"/><path d="M491.14 280.66L493.84 285.76H488.44Z" fill="#e5251b"/>
<path d="M144.54 246.62V247.62" stroke="#1f7fc0" stroke-width="1" fill="none"/><path d="M141.94 246.62h5.2M141.94 247.62h5.2" stroke="#1f7fc0" stroke-width="0.8" fill="none"/><path d="M162.78 210.05V211.25" stroke="#1f7fc0" stroke-width="1" fill="none"/><path d="M160.18 210.05h5.2M160.18 211.25h5.2" stroke="#1f7fc0" stroke-width="0.8" fill="none"/><path d="M181.03 172.74V174.74" stroke="#1f7fc0" stroke-width="1" fill="none"/><path d="M178.43 172.74h5.2M178.43 174.74h5.2" stroke="#1f7fc0" stroke-width="0.8" fill="none"/><path d="M199.27 145.09V147.09" stroke="#1f7fc0" stroke-width="1" fill="none"/><path d="M196.67 145.09h5.2M196.67 147.09h5.2" stroke="#1f7fc0" stroke-width="0.8" fill="none"/><path d="M217.51 109.35V112.55" stroke="#1f7fc0" stroke-width="1" fill="none"/><path d="M214.91 109.35h5.2M214.91 112.55h5.2" stroke="#1f7fc0" stroke-width="0.8" fill="none"/><path d="M235.75 88.24V92.24" stroke="#1f7fc0" stroke-width="1" fill="none"/><path d="M233.15 88.24h5.2M233.15 92.24h5.2" stroke="#1f7fc0" stroke-width="0.8" fill="none"/><path d="M254.00 61.53V68.53" stroke="#1f7fc0" stroke-width="1" fill="none"/><path d="M251.40 61.53h5.2M251.40 68.53h5.2" stroke="#1f7fc0" stroke-width="0.8" fill="none"/><path d="M272.24 53.78V60.78" stroke="#1f7fc0" stroke-width="1" fill="none"/><path d="M269.64 53.78h5.2M269.64 60.78h5.2" stroke="#1f7fc0" stroke-width="0.8" fill="none"/><path d="M290.48 42.16V50.16" stroke="#1f7fc0" stroke-width="1" fill="none"/><path d="M287.88 42.16h5.2M287.88 50.16h5.2" stroke="#1f7fc0" stroke-width="0.8" fill="none"/><path d="M308.72 42.22V51.42" stroke="#1f7fc0" stroke-width="1" fill="none"/><path d="M306.12 42.22h5.2M306.12 51.42h5.2" stroke="#1f7fc0" stroke-width="0.8" fill="none"/><path d="M326.96 35.71V44.91" stroke="#1f7fc0" stroke-width="1" fill="none"/><path d="M324.36 35.71h5.2M324.36 44.91h5.2" stroke="#1f7fc0" stroke-width="0.8" fill="none"/><path d="M345.21 51.48V61.88" stroke="#1f7fc0" stroke-width="1" fill="none"/><path d="M342.61 51.48h5.2M342.61 61.88h5.2" stroke="#1f7fc0" stroke-width="0.8" fill="none"/><path d="M363.45 61.93V71.13" stroke="#1f7fc0" stroke-width="1" fill="none"/><path d="M360.85 61.93h5.2M360.85 71.13h5.2" stroke="#1f7fc0" stroke-width="0.8" fill="none"/><path d="M381.69 83.54V90.54" stroke="#1f7fc0" stroke-width="1" fill="none"/><path d="M379.09 83.54h5.2M379.09 90.54h5.2" stroke="#1f7fc0" stroke-width="0.8" fill="none"/><path d="M399.93 115.27V125.67" stroke="#1f7fc0" stroke-width="1" fill="none"/><path d="M397.33 115.27h5.2M397.33 125.67h5.2" stroke="#1f7fc0" stroke-width="0.8" fill="none"/><path d="M418.17 134.98V144.18" stroke="#1f7fc0" stroke-width="1" fill="none"/><path d="M415.57 134.98h5.2M415.57 144.18h5.2" stroke="#1f7fc0" stroke-width="0.8" fill="none"/><path d="M436.42 171.35V181.75" stroke="#1f7fc0" stroke-width="1" fill="none"/><path d="M433.82 171.35h5.2M433.82 181.75h5.2" stroke="#1f7fc0" stroke-width="0.8" fill="none"/><path d="M454.66 200.74V211.14" stroke="#1f7fc0" stroke-width="1" fill="none"/><path d="M452.06 200.74h5.2M452.06 211.14h5.2" stroke="#1f7fc0" stroke-width="0.8" fill="none"/><path d="M472.90 243.53V251.93" stroke="#1f7fc0" stroke-width="1" fill="none"/><path d="M470.30 243.53h5.2M470.30 251.93h5.2" stroke="#1f7fc0" stroke-width="0.8" fill="none"/><path d="M491.14 279.96V285.96" stroke="#1f7fc0" stroke-width="1" fill="none"/><path d="M488.54 279.96h5.2M488.54 285.96h5.2" stroke="#1f7fc0" stroke-width="0.8" fill="none"/><polyline points="70.56,396.97 72.03,394.22 73.51,391.46 74.98,388.69 76.46,385.89 77.93,383.08 79.41,380.25 80.88,377.41 82.36,374.55 83.83,371.68 85.30,368.79 86.78,365.89 88.25,362.97 89.73,360.04 91.20,357.10 92.68,354.15 94.15,351.18 95.63,348.21 97.10,345.22 98.58,342.23 100.05,339.22 101.53,336.21 103.00,333.18 104.48,330.15 105.95,327.11 107.43,324.07 108.90,321.02 110.38,317.96 111.85,314.90 113.33,311.83 114.80,308.75 116.28,305.68 117.75,302.60 119.23,299.51 120.70,296.43 122.18,293.34 123.65,290.25 125.13,287.16 126.60,284.07 128.08,280.98 129.55,277.89 131.03,274.80 132.50,271.71 133.98,268.63 135.45,265.54 136.93,262.46 138.40,259.39 139.88,256.32 141.35,253.25 142.83,250.19 144.30,247.13 145.78,244.08 147.25,241.04 148.73,238.00 150.20,234.98 151.68,231.96 153.15,228.95 154.62,225.94 156.10,222.95 157.57,219.97 159.05,217.00 160.52,214.04 162.00,211.09 163.47,208.16 164.95,205.23 166.42,202.32 167.90,199.43 169.37,196.54 170.85,193.68 172.32,190.82 173.80,187.99 175.27,185.17 176.75,182.36 178.22,179.57 179.70,176.80 181.17,174.05 182.65,171.32 184.12,168.60 185.60,165.90 187.07,163.23 188.55,160.57 190.02,157.93 191.50,155.32 192.97,152.72 194.45,150.15 195.92,147.60 197.40,145.07 198.87,142.57 200.35,140.09 201.82,137.63 203.30,135.19 204.77,132.78 206.25,130.40 207.72,128.04 209.20,125.71 210.67,123.40 212.15,121.12 213.62,118.87 215.10,116.64 216.57,114.44 218.05,112.27 219.52,110.13 221.00,108.01 222.47,105.93 223.94,103.87 225.42,101.84 226.89,99.84 228.37,97.88 229.84,95.94 231.32,94.03 232.79,92.16 234.27,90.32 235.74,88.50 237.22,86.73 238.69,84.98 240.17,83.26 241.64,81.58 243.12,79.93 244.59,78.31 246.07,76.73 247.54,75.18 249.02,73.67 250.49,72.19 251.97,70.74 253.44,69.33 254.92,67.95 256.39,66.61 257.87,65.31 259.34,64.04 260.82,62.80 262.29,61.60 263.77,60.44 265.24,59.31 266.72,58.22 268.19,57.17 269.67,56.15 271.14,55.17 272.62,54.23 274.09,53.33 275.57,52.46 277.04,51.63 278.52,50.83 279.99,50.08 281.47,49.36 282.94,48.68 284.42,48.04 285.89,47.43 287.37,46.87 288.84,46.34 290.32,45.85 291.79,45.40 293.26,44.99 294.74,44.61 296.21,44.28 297.69,43.98 299.16,43.73 300.64,43.51 302.11,43.33 303.59,43.18 305.06,43.08 306.54,43.02 308.01,42.99 309.49,43.01 310.96,43.06 312.44,43.15 313.91,43.28 315.39,43.45 316.86,43.65 318.34,43.90 319.81,44.18 321.29,44.51 322.76,44.87 324.24,45.27 325.71,45.71 327.19,46.18 328.66,46.70 330.14,47.25 331.61,47.84 333.09,48.47 334.56,49.14 336.04,49.84 337.51,50.58 338.99,51.36 340.46,52.18 341.94,53.03 343.41,53.92 344.89,54.85 346.36,55.82 347.84,56.82 349.31,57.85 350.79,58.93 352.26,60.04 353.74,61.19 355.21,62.37 356.69,63.59 358.16,64.84 359.64,66.13 361.11,67.45 362.58,68.81 364.06,70.20 365.53,71.63 367.01,73.09 368.48,74.59 369.96,76.11 371.43,77.68 372.91,79.27 374.38,80.90 375.86,82.56 377.33,84.26 378.81,85.98 380.28,87.74 381.76,89.53 383.23,91.35 384.71,93.20 386.18,95.08 387.66,96.99 389.13,98.94 390.61,100.91 392.08,102.91 393.56,104.94 395.03,107.00 396.51,109.09 397.98,111.21 399.46,113.35 400.93,115.53 402.41,117.73 403.88,119.95 405.36,122.21 406.83,124.49 408.31,126.79 409.78,129.12 411.26,131.48 412.73,133.86 414.21,136.26 415.68,138.69 417.16,141.14 418.63,143.62 420.11,146.11 421.58,148.63 423.06,151.17 424.53,153.74 426.01,156.32 427.48,158.93 428.96,161.55 430.43,164.20 431.90,166.86 433.38,169.55 434.85,172.25 436.33,174.97 437.80,177.71 439.28,180.46 440.75,183.24 442.23,186.02 443.70,188.83 445.18,191.65 446.65,194.48 448.13,197.33 449.60,200.20 451.08,203.08 452.55,205.97 454.03,208.87 455.50,211.79 456.98,214.71 458.45,217.65 459.93,220.60 461.40,223.56 462.88,226.53 464.35,229.51 465.83,232.50 467.30,235.50 468.78,238.50 470.25,241.51 471.73,244.53 473.20,247.56 474.68,250.59 476.15,253.63 477.63,256.67 479.10,259.72 480.58,262.77 482.05,265.82 483.53,268.88 485.00,271.94 486.48,275.00 487.95,278.06 489.43,281.13 490.90,284.19 492.38,287.26 493.85,290.33 495.33,293.39 496.80,296.45 498.28,299.51 499.75,302.57 501.22,305.63 502.70,308.68 504.17,311.73 505.65,314.77 507.12,317.81 508.60,320.84 510.07,323.87 511.55,326.89 513.02,329.91" fill="none" stroke="#1f7fc0" stroke-width="1.1" stroke-linejoin="round"/><circle cx="144.54" cy="247.12" r="2.3" fill="none" stroke="#1f7fc0" stroke-width="1.3"/><circle cx="162.78" cy="210.65" r="2.3" fill="none" stroke="#1f7fc0" stroke-width="1.3"/><circle cx="181.03" cy="173.74" r="2.3" fill="none" stroke="#1f7fc0" stroke-width="1.3"/><circle cx="199.27" cy="146.09" r="2.3" fill="none" stroke="#1f7fc0" stroke-width="1.3"/><circle cx="217.51" cy="110.95" r="2.3" fill="none" stroke="#1f7fc0" stroke-width="1.3"/><circle cx="235.75" cy="90.24" r="2.3" fill="none" stroke="#1f7fc0" stroke-width="1.3"/><circle cx="254.00" cy="65.03" r="2.3" fill="none" stroke="#1f7fc0" stroke-width="1.3"/><circle cx="272.24" cy="57.28" r="2.3" fill="none" stroke="#1f7fc0" stroke-width="1.3"/><circle cx="290.48" cy="46.16" r="2.3" fill="none" stroke="#1f7fc0" stroke-width="1.3"/><circle cx="308.72" cy="46.82" r="2.3" fill="none" stroke="#1f7fc0" stroke-width="1.3"/><circle cx="326.96" cy="40.31" r="2.3" fill="none" stroke="#1f7fc0" stroke-width="1.3"/><circle cx="345.21" cy="56.68" r="2.3" fill="none" stroke="#1f7fc0" stroke-width="1.3"/><circle cx="363.45" cy="66.53" r="2.3" fill="none" stroke="#1f7fc0" stroke-width="1.3"/><circle cx="381.69" cy="87.04" r="2.3" fill="none" stroke="#1f7fc0" stroke-width="1.3"/><circle cx="399.93" cy="120.47" r="2.3" fill="none" stroke="#1f7fc0" stroke-width="1.3"/><circle cx="418.17" cy="139.58" r="2.3" fill="none" stroke="#1f7fc0" stroke-width="1.3"/><circle cx="436.42" cy="176.55" r="2.3" fill="none" stroke="#1f7fc0" stroke-width="1.3"/><circle cx="454.66" cy="205.94" r="2.3" fill="none" stroke="#1f7fc0" stroke-width="1.3"/><circle cx="472.90" cy="247.73" r="2.3" fill="none" stroke="#1f7fc0" stroke-width="1.3"/><circle cx="491.14" cy="282.96" r="2.3" fill="none" stroke="#1f7fc0" stroke-width="1.3"/>
<path d="M144.54 265.36V269.96" stroke="#1f7fc0" stroke-width="1" fill="none"/><path d="M142.14 265.36h4.8M142.14 269.96h4.8" stroke="#1f7fc0" stroke-width="0.8" fill="none"/><path d="M162.78 246.93V251.53" stroke="#1f7fc0" stroke-width="1" fill="none"/><path d="M160.38 246.93h4.8M160.38 251.53h4.8" stroke="#1f7fc0" stroke-width="0.8" fill="none"/><path d="M181.03 228.06V232.66" stroke="#1f7fc0" stroke-width="1" fill="none"/><path d="M178.63 228.06h4.8M178.63 232.66h4.8" stroke="#1f7fc0" stroke-width="0.8" fill="none"/><path d="M199.27 214.20V218.80" stroke="#1f7fc0" stroke-width="1" fill="none"/><path d="M196.87 214.20h4.8M196.87 218.80h4.8" stroke="#1f7fc0" stroke-width="0.8" fill="none"/><path d="M217.51 199.83V204.43" stroke="#1f7fc0" stroke-width="1" fill="none"/><path d="M215.11 199.83h4.8M215.11 204.43h4.8" stroke="#1f7fc0" stroke-width="0.8" fill="none"/><path d="M235.75 184.47V189.07" stroke="#1f7fc0" stroke-width="1" fill="none"/><path d="M233.35 184.47h4.8M233.35 189.07h4.8" stroke="#1f7fc0" stroke-width="0.8" fill="none"/><path d="M254.00 174.62V179.22" stroke="#1f7fc0" stroke-width="1" fill="none"/><path d="M251.60 174.62h4.8M251.60 179.22h4.8" stroke="#1f7fc0" stroke-width="0.8" fill="none"/><path d="M272.24 168.77V173.37" stroke="#1f7fc0" stroke-width="1" fill="none"/><path d="M269.84 168.77h4.8M269.84 173.37h4.8" stroke="#1f7fc0" stroke-width="0.8" fill="none"/><path d="M290.48 165.87V170.47" stroke="#1f7fc0" stroke-width="1" fill="none"/><path d="M288.08 165.87h4.8M288.08 170.47h4.8" stroke="#1f7fc0" stroke-width="0.8" fill="none"/><path d="M308.72 169.44V174.04" stroke="#1f7fc0" stroke-width="1" fill="none"/><path d="M306.32 169.44h4.8M306.32 174.04h4.8" stroke="#1f7fc0" stroke-width="0.8" fill="none"/><path d="M326.96 165.87V170.47" stroke="#1f7fc0" stroke-width="1" fill="none"/><path d="M324.56 165.87h4.8M324.56 170.47h4.8" stroke="#1f7fc0" stroke-width="0.8" fill="none"/><path d="M345.21 172.78V177.38" stroke="#1f7fc0" stroke-width="1" fill="none"/><path d="M342.81 172.78h4.8M342.81 177.38h4.8" stroke="#1f7fc0" stroke-width="0.8" fill="none"/><path d="M363.45 175.72V180.32" stroke="#1f7fc0" stroke-width="1" fill="none"/><path d="M361.05 175.72h4.8M361.05 180.32h4.8" stroke="#1f7fc0" stroke-width="0.8" fill="none"/><path d="M381.69 186.87V191.47" stroke="#1f7fc0" stroke-width="1" fill="none"/><path d="M379.29 186.87h4.8M379.29 191.47h4.8" stroke="#1f7fc0" stroke-width="0.8" fill="none"/><path d="M399.93 198.60V203.20" stroke="#1f7fc0" stroke-width="1" fill="none"/><path d="M397.53 198.60h4.8M397.53 203.20h4.8" stroke="#1f7fc0" stroke-width="0.8" fill="none"/><path d="M418.17 211.02V215.62" stroke="#1f7fc0" stroke-width="1" fill="none"/><path d="M415.77 211.02h4.8M415.77 215.62h4.8" stroke="#1f7fc0" stroke-width="0.8" fill="none"/><path d="M436.42 228.22V232.82" stroke="#1f7fc0" stroke-width="1" fill="none"/><path d="M434.02 228.22h4.8M434.02 232.82h4.8" stroke="#1f7fc0" stroke-width="0.8" fill="none"/><path d="M454.66 249.67V254.27" stroke="#1f7fc0" stroke-width="1" fill="none"/><path d="M452.26 249.67h4.8M452.26 254.27h4.8" stroke="#1f7fc0" stroke-width="0.8" fill="none"/><path d="M472.90 264.76V269.36" stroke="#1f7fc0" stroke-width="1" fill="none"/><path d="M470.50 264.76h4.8M470.50 269.36h4.8" stroke="#1f7fc0" stroke-width="0.8" fill="none"/><path d="M491.14 287.01V293.41" stroke="#1f7fc0" stroke-width="1" fill="none"/><path d="M488.74 287.01h4.8M488.74 293.41h4.8" stroke="#1f7fc0" stroke-width="0.8" fill="none"/><polyline points="70.56,340.41 72.03,339.06 73.51,337.69 74.98,336.32 76.46,334.95 77.93,333.56 79.41,332.16 80.88,330.76 82.36,329.34 83.83,327.92 85.30,326.49 86.78,325.05 88.25,323.61 89.73,322.16 91.20,320.70 92.68,319.24 94.15,317.77 95.63,316.29 97.10,314.81 98.58,313.32 100.05,311.83 101.53,310.33 103.00,308.83 104.48,307.32 105.95,305.81 107.43,304.30 108.90,302.78 110.38,301.26 111.85,299.73 113.33,298.21 114.80,296.68 116.28,295.15 117.75,293.61 119.23,292.08 120.70,290.54 122.18,289.00 123.65,287.46 125.13,285.92 126.60,284.38 128.08,282.85 129.55,281.31 131.03,279.77 132.50,278.23 133.98,276.70 135.45,275.16 136.93,273.63 138.40,272.10 139.88,270.57 141.35,269.04 142.83,267.52 144.30,266.00 145.78,264.48 147.25,262.97 148.73,261.46 150.20,259.95 151.68,258.45 153.15,256.96 154.62,255.47 156.10,253.98 157.57,252.50 159.05,251.03 160.52,249.56 162.00,248.10 163.47,246.65 164.95,245.20 166.42,243.76 167.90,242.32 169.37,240.90 170.85,239.48 172.32,238.07 173.80,236.67 175.27,235.27 176.75,233.89 178.22,232.51 179.70,231.15 181.17,229.79 182.65,228.44 184.12,227.11 185.60,225.78 187.07,224.46 188.55,223.16 190.02,221.86 191.50,220.58 192.97,219.30 194.45,218.04 195.92,216.79 197.40,215.55 198.87,214.33 200.35,213.11 201.82,211.91 203.30,210.72 204.77,209.55 206.25,208.38 207.72,207.23 209.20,206.10 210.67,204.97 212.15,203.86 213.62,202.76 215.10,201.68 216.57,200.61 218.05,199.56 219.52,198.52 221.00,197.49 222.47,196.48 223.94,195.49 225.42,194.50 226.89,193.54 228.37,192.59 229.84,191.65 231.32,190.73 232.79,189.82 234.27,188.94 235.74,188.06 237.22,187.20 238.69,186.36 240.17,185.54 241.64,184.73 243.12,183.93 244.59,183.16 246.07,182.40 247.54,181.65 249.02,180.92 250.49,180.21 251.97,179.52 253.44,178.84 254.92,178.18 256.39,177.54 257.87,176.91 259.34,176.30 260.82,175.71 262.29,175.14 263.77,174.58 265.24,174.04 266.72,173.52 268.19,173.02 269.67,172.53 271.14,172.06 272.62,171.61 274.09,171.17 275.57,170.76 277.04,170.36 278.52,169.98 279.99,169.62 281.47,169.27 282.94,168.95 284.42,168.64 285.89,168.35 287.37,168.07 288.84,167.82 290.32,167.58 291.79,167.36 293.26,167.16 294.74,166.98 296.21,166.82 297.69,166.67 299.16,166.55 300.64,166.44 302.11,166.35 303.59,166.27 305.06,166.22 306.54,166.18 308.01,166.17 309.49,166.17 310.96,166.18 312.44,166.22 313.91,166.28 315.39,166.35 316.86,166.44 318.34,166.55 319.81,166.68 321.29,166.83 322.76,166.99 324.24,167.17 325.71,167.37 327.19,167.59 328.66,167.83 330.14,168.08 331.61,168.36 333.09,168.65 334.56,168.96 336.04,169.29 337.51,169.63 338.99,169.99 340.46,170.38 341.94,170.77 343.41,171.19 344.89,171.63 346.36,172.08 347.84,172.55 349.31,173.04 350.79,173.54 352.26,174.06 353.74,174.60 355.21,175.16 356.69,175.74 358.16,176.33 359.64,176.94 361.11,177.56 362.58,178.21 364.06,178.87 365.53,179.55 367.01,180.24 368.48,180.95 369.96,181.68 371.43,182.43 372.91,183.19 374.38,183.96 375.86,184.76 377.33,185.57 378.81,186.40 380.28,187.24 381.76,188.10 383.23,188.97 384.71,189.86 386.18,190.77 387.66,191.69 389.13,192.62 390.61,193.58 392.08,194.54 393.56,195.52 395.03,196.52 396.51,197.53 397.98,198.56 399.46,199.60 400.93,200.66 402.41,201.72 403.88,202.81 405.36,203.91 406.83,205.02 408.31,206.14 409.78,207.28 411.26,208.43 412.73,209.59 414.21,210.77 415.68,211.96 417.16,213.16 418.63,214.38 420.11,215.60 421.58,216.84 423.06,218.09 424.53,219.35 426.01,220.63 427.48,221.91 428.96,223.21 430.43,224.51 431.90,225.83 433.38,227.16 434.85,228.50 436.33,229.84 437.80,231.20 439.28,232.57 440.75,233.94 442.23,235.33 443.70,236.72 445.18,238.12 446.65,239.53 448.13,240.95 449.60,242.38 451.08,243.81 452.55,245.25 454.03,246.70 455.50,248.16 456.98,249.62 458.45,251.09 459.93,252.56 461.40,254.04 462.88,255.53 464.35,257.02 465.83,258.51 467.30,260.01 468.78,261.52 470.25,263.03 471.73,264.54 473.20,266.06 474.68,267.58 476.15,269.10 477.63,270.63 479.10,272.16 480.58,273.69 482.05,275.22 483.53,276.76 485.00,278.29 486.48,279.83 487.95,281.37 489.43,282.91 490.90,284.45 492.38,285.99 493.85,287.52 495.33,289.06 496.80,290.60 498.28,292.14 499.75,293.67 501.22,295.21 502.70,296.74 504.17,298.27 505.65,299.79 507.12,301.32 508.60,302.84 510.07,304.36 511.55,305.87 513.02,307.38" fill="none" stroke="#1f7fc0" stroke-width="1.1" stroke-linejoin="round"/><rect x="142.24" y="264.96" width="4.6" height="5.3" rx="0.5" fill="none" stroke="#1f7fc0" stroke-width="1.1"/><rect x="160.48" y="246.53" width="4.6" height="5.3" rx="0.5" fill="none" stroke="#1f7fc0" stroke-width="1.1"/><rect x="178.73" y="227.66" width="4.6" height="5.3" rx="0.5" fill="none" stroke="#1f7fc0" stroke-width="1.1"/><rect x="196.97" y="213.80" width="4.6" height="5.3" rx="0.5" fill="none" stroke="#1f7fc0" stroke-width="1.1"/><rect x="215.21" y="199.43" width="4.6" height="5.3" rx="0.5" fill="none" stroke="#1f7fc0" stroke-width="1.1"/><rect x="233.45" y="184.07" width="4.6" height="5.3" rx="0.5" fill="none" stroke="#1f7fc0" stroke-width="1.1"/><rect x="251.70" y="174.22" width="4.6" height="5.3" rx="0.5" fill="none" stroke="#1f7fc0" stroke-width="1.1"/><rect x="269.94" y="168.37" width="4.6" height="5.3" rx="0.5" fill="none" stroke="#1f7fc0" stroke-width="1.1"/><rect x="288.18" y="165.47" width="4.6" height="5.3" rx="0.5" fill="none" stroke="#1f7fc0" stroke-width="1.1"/><rect x="306.42" y="169.04" width="4.6" height="5.3" rx="0.5" fill="none" stroke="#1f7fc0" stroke-width="1.1"/><rect x="324.66" y="165.47" width="4.6" height="5.3" rx="0.5" fill="none" stroke="#1f7fc0" stroke-width="1.1"/><rect x="342.91" y="172.38" width="4.6" height="5.3" rx="0.5" fill="none" stroke="#1f7fc0" stroke-width="1.1"/><rect x="361.15" y="175.32" width="4.6" height="5.3" rx="0.5" fill="none" stroke="#1f7fc0" stroke-width="1.1"/><rect x="379.39" y="186.47" width="4.6" height="5.3" rx="0.5" fill="none" stroke="#1f7fc0" stroke-width="1.1"/><rect x="397.63" y="198.20" width="4.6" height="5.3" rx="0.5" fill="none" stroke="#1f7fc0" stroke-width="1.1"/><rect x="415.87" y="210.62" width="4.6" height="5.3" rx="0.5" fill="none" stroke="#1f7fc0" stroke-width="1.1"/><rect x="434.12" y="227.82" width="4.6" height="5.3" rx="0.5" fill="none" stroke="#1f7fc0" stroke-width="1.1"/><rect x="452.36" y="249.27" width="4.6" height="5.3" rx="0.5" fill="none" stroke="#1f7fc0" stroke-width="1.1"/><rect x="470.60" y="264.36" width="4.6" height="5.3" rx="0.5" fill="none" stroke="#1f7fc0" stroke-width="1.1"/><rect x="488.84" y="287.51" width="4.6" height="5.3" rx="0.5" fill="none" stroke="#1f7fc0" stroke-width="1.1"/>
<path d="M144.54 275.28V278.88" stroke="#1f7fc0" stroke-width="1" fill="none"/><path d="M141.94 275.28h5.2M141.94 278.88h5.2" stroke="#1f7fc0" stroke-width="0.8" fill="none"/><path d="M162.78 267.30V270.90" stroke="#1f7fc0" stroke-width="1" fill="none"/><path d="M160.18 267.30h5.2M160.18 270.90h5.2" stroke="#1f7fc0" stroke-width="0.8" fill="none"/><path d="M181.03 258.45V262.05" stroke="#1f7fc0" stroke-width="1" fill="none"/><path d="M178.43 258.45h5.2M178.43 262.05h5.2" stroke="#1f7fc0" stroke-width="0.8" fill="none"/><path d="M199.27 250.63V254.23" stroke="#1f7fc0" stroke-width="1" fill="none"/><path d="M196.67 250.63h5.2M196.67 254.23h5.2" stroke="#1f7fc0" stroke-width="0.8" fill="none"/><path d="M217.51 246.09V249.69" stroke="#1f7fc0" stroke-width="1" fill="none"/><path d="M214.91 246.09h5.2M214.91 249.69h5.2" stroke="#1f7fc0" stroke-width="0.8" fill="none"/><path d="M235.75 238.08V241.68" stroke="#1f7fc0" stroke-width="1" fill="none"/><path d="M233.15 238.08h5.2M233.15 241.68h5.2" stroke="#1f7fc0" stroke-width="0.8" fill="none"/><path d="M254.00 235.60V239.20" stroke="#1f7fc0" stroke-width="1" fill="none"/><path d="M251.40 235.60h5.2M251.40 239.20h5.2" stroke="#1f7fc0" stroke-width="0.8" fill="none"/><path d="M272.24 229.73V233.33" stroke="#1f7fc0" stroke-width="1" fill="none"/><path d="M269.64 229.73h5.2M269.64 233.33h5.2" stroke="#1f7fc0" stroke-width="0.8" fill="none"/><path d="M290.48 225.55V229.15" stroke="#1f7fc0" stroke-width="1" fill="none"/><path d="M287.88 225.55h5.2M287.88 229.15h5.2" stroke="#1f7fc0" stroke-width="0.8" fill="none"/><path d="M308.72 227.66V231.26" stroke="#1f7fc0" stroke-width="1" fill="none"/><path d="M306.12 227.66h5.2M306.12 231.26h5.2" stroke="#1f7fc0" stroke-width="0.8" fill="none"/><path d="M326.96 229.59V233.19" stroke="#1f7fc0" stroke-width="1" fill="none"/><path d="M324.36 229.59h5.2M324.36 233.19h5.2" stroke="#1f7fc0" stroke-width="0.8" fill="none"/><path d="M345.21 229.59V233.19" stroke="#1f7fc0" stroke-width="1" fill="none"/><path d="M342.61 229.59h5.2M342.61 233.19h5.2" stroke="#1f7fc0" stroke-width="0.8" fill="none"/><path d="M363.45 236.91V240.51" stroke="#1f7fc0" stroke-width="1" fill="none"/><path d="M360.85 236.91h5.2M360.85 240.51h5.2" stroke="#1f7fc0" stroke-width="0.8" fill="none"/><path d="M381.69 239.01V242.61" stroke="#1f7fc0" stroke-width="1" fill="none"/><path d="M379.09 239.01h5.2M379.09 242.61h5.2" stroke="#1f7fc0" stroke-width="0.8" fill="none"/><path d="M399.93 241.08V244.68" stroke="#1f7fc0" stroke-width="1" fill="none"/><path d="M397.33 241.08h5.2M397.33 244.68h5.2" stroke="#1f7fc0" stroke-width="0.8" fill="none"/><path d="M418.17 249.77V253.37" stroke="#1f7fc0" stroke-width="1" fill="none"/><path d="M415.57 249.77h5.2M415.57 253.37h5.2" stroke="#1f7fc0" stroke-width="0.8" fill="none"/><path d="M436.42 257.51V261.11" stroke="#1f7fc0" stroke-width="1" fill="none"/><path d="M433.82 257.51h5.2M433.82 261.11h5.2" stroke="#1f7fc0" stroke-width="0.8" fill="none"/><path d="M454.66 266.97V270.57" stroke="#1f7fc0" stroke-width="1" fill="none"/><path d="M452.06 266.97h5.2M452.06 270.57h5.2" stroke="#1f7fc0" stroke-width="0.8" fill="none"/><path d="M472.90 273.28V276.88" stroke="#1f7fc0" stroke-width="1" fill="none"/><path d="M470.30 273.28h5.2M470.30 276.88h5.2" stroke="#1f7fc0" stroke-width="0.8" fill="none"/><path d="M491.14 281.16V284.76" stroke="#1f7fc0" stroke-width="1" fill="none"/><path d="M488.54 281.16h5.2M488.54 284.76h5.2" stroke="#1f7fc0" stroke-width="0.8" fill="none"/><polyline points="70.56,310.17 72.03,309.55 73.51,308.92 74.98,308.29 76.46,307.65 77.93,307.01 79.41,306.37 80.88,305.72 82.36,305.08 83.83,304.42 85.30,303.77 86.78,303.11 88.25,302.45 89.73,301.78 91.20,301.11 92.68,300.44 94.15,299.77 95.63,299.10 97.10,298.42 98.58,297.74 100.05,297.06 101.53,296.38 103.00,295.69 104.48,295.00 105.95,294.31 107.43,293.62 108.90,292.93 110.38,292.24 111.85,291.54 113.33,290.85 114.80,290.15 116.28,289.45 117.75,288.76 119.23,288.06 120.70,287.36 122.18,286.66 123.65,285.96 125.13,285.26 126.60,284.56 128.08,283.86 129.55,283.16 131.03,282.46 132.50,281.76 133.98,281.06 135.45,280.36 136.93,279.66 138.40,278.96 139.88,278.27 141.35,277.57 142.83,276.88 144.30,276.19 145.78,275.49 147.25,274.80 148.73,274.12 150.20,273.43 151.68,272.74 153.15,272.06 154.62,271.38 156.10,270.70 157.57,270.03 159.05,269.35 160.52,268.68 162.00,268.01 163.47,267.35 164.95,266.68 166.42,266.02 167.90,265.36 169.37,264.71 170.85,264.06 172.32,263.41 173.80,262.77 175.27,262.13 176.75,261.49 178.22,260.85 179.70,260.22 181.17,259.60 182.65,258.98 184.12,258.36 185.60,257.75 187.07,257.14 188.55,256.53 190.02,255.93 191.50,255.34 192.97,254.75 194.45,254.16 195.92,253.58 197.40,253.01 198.87,252.43 200.35,251.87 201.82,251.31 203.30,250.75 204.77,250.20 206.25,249.66 207.72,249.12 209.20,248.59 210.67,248.06 212.15,247.54 213.62,247.03 215.10,246.52 216.57,246.02 218.05,245.52 219.52,245.03 221.00,244.55 222.47,244.07 223.94,243.60 225.42,243.14 226.89,242.68 228.37,242.23 229.84,241.79 231.32,241.35 232.79,240.92 234.27,240.50 235.74,240.08 237.22,239.67 238.69,239.27 240.17,238.88 241.64,238.49 243.12,238.12 244.59,237.74 246.07,237.38 247.54,237.02 249.02,236.68 250.49,236.34 251.97,236.00 253.44,235.68 254.92,235.36 256.39,235.05 257.87,234.75 259.34,234.46 260.82,234.17 262.29,233.90 263.77,233.63 265.24,233.37 266.72,233.12 268.19,232.87 269.67,232.64 271.14,232.41 272.62,232.19 274.09,231.98 275.57,231.78 277.04,231.59 278.52,231.40 279.99,231.23 281.47,231.06 282.94,230.90 284.42,230.75 285.89,230.61 287.37,230.48 288.84,230.35 290.32,230.24 291.79,230.13 293.26,230.03 294.74,229.95 296.21,229.87 297.69,229.80 299.16,229.73 300.64,229.68 302.11,229.64 303.59,229.60 305.06,229.57 306.54,229.56 308.01,229.55 309.49,229.55 310.96,229.56 312.44,229.58 313.91,229.60 315.39,229.64 316.86,229.68 318.34,229.74 319.81,229.80 321.29,229.87 322.76,229.95 324.24,230.04 325.71,230.14 327.19,230.24 328.66,230.36 330.14,230.48 331.61,230.62 333.09,230.76 334.56,230.91 336.04,231.07 337.51,231.23 338.99,231.41 340.46,231.59 341.94,231.79 343.41,231.99 344.89,232.20 346.36,232.42 347.84,232.65 349.31,232.88 350.79,233.13 352.26,233.38 353.74,233.64 355.21,233.91 356.69,234.18 358.16,234.47 359.64,234.76 361.11,235.06 362.58,235.37 364.06,235.69 365.53,236.02 367.01,236.35 368.48,236.69 369.96,237.04 371.43,237.40 372.91,237.76 374.38,238.13 375.86,238.51 377.33,238.90 378.81,239.29 380.28,239.69 381.76,240.10 383.23,240.51 384.71,240.94 386.18,241.37 387.66,241.80 389.13,242.25 390.61,242.70 392.08,243.16 393.56,243.62 395.03,244.09 396.51,244.57 397.98,245.05 399.46,245.54 400.93,246.04 402.41,246.54 403.88,247.05 405.36,247.56 406.83,248.09 408.31,248.61 409.78,249.14 411.26,249.68 412.73,250.23 414.21,250.78 415.68,251.33 417.16,251.89 418.63,252.46 420.11,253.03 421.58,253.60 423.06,254.19 424.53,254.77 426.01,255.36 427.48,255.96 428.96,256.56 430.43,257.16 431.90,257.77 433.38,258.38 434.85,259.00 436.33,259.62 437.80,260.25 439.28,260.88 440.75,261.51 442.23,262.15 443.70,262.79 445.18,263.44 446.65,264.08 448.13,264.74 449.60,265.39 451.08,266.05 452.55,266.71 454.03,267.37 455.50,268.04 456.98,268.71 458.45,269.38 459.93,270.05 461.40,270.73 462.88,271.41 464.35,272.09 465.83,272.77 467.30,273.46 468.78,274.14 470.25,274.83 471.73,275.52 473.20,276.21 474.68,276.91 476.15,277.60 477.63,278.30 479.10,278.99 480.58,279.69 482.05,280.39 483.53,281.08 485.00,281.78 486.48,282.48 487.95,283.18 489.43,283.88 490.90,284.58 492.38,285.29 493.85,285.99 495.33,286.69 496.80,287.39 498.28,288.08 499.75,288.78 501.22,289.48 502.70,290.18 504.17,290.88 505.65,291.57 507.12,292.27 508.60,292.96 510.07,293.65 511.55,294.34 513.02,295.03" fill="none" stroke="#1f7fc0" stroke-width="1.1" stroke-linejoin="round"/><path d="M144.54 274.08L147.14 278.88H141.94Z" fill="none" stroke="#1f7fc0" stroke-width="1.1"/><path d="M162.78 266.10L165.38 270.90H160.18Z" fill="none" stroke="#1f7fc0" stroke-width="1.1"/><path d="M181.03 257.25L183.63 262.05H178.43Z" fill="none" stroke="#1f7fc0" stroke-width="1.1"/><path d="M199.27 249.43L201.87 254.23H196.67Z" fill="none" stroke="#1f7fc0" stroke-width="1.1"/><path d="M217.51 244.89L220.11 249.69H214.91Z" fill="none" stroke="#1f7fc0" stroke-width="1.1"/><path d="M235.75 236.88L238.35 241.68H233.15Z" fill="none" stroke="#1f7fc0" stroke-width="1.1"/><path d="M254.00 234.40L256.60 239.20H251.40Z" fill="none" stroke="#1f7fc0" stroke-width="1.1"/><path d="M272.24 228.53L274.84 233.33H269.64Z" fill="none" stroke="#1f7fc0" stroke-width="1.1"/><path d="M290.48 224.35L293.08 229.15H287.88Z" fill="none" stroke="#1f7fc0" stroke-width="1.1"/><path d="M308.72 226.46L311.32 231.26H306.12Z" fill="none" stroke="#1f7fc0" stroke-width="1.1"/><path d="M326.96 228.39L329.56 233.19H324.36Z" fill="none" stroke="#1f7fc0" stroke-width="1.1"/><path d="M345.21 228.39L347.81 233.19H342.61Z" fill="none" stroke="#1f7fc0" stroke-width="1.1"/><path d="M363.45 235.71L366.05 240.51H360.85Z" fill="none" stroke="#1f7fc0" stroke-width="1.1"/><path d="M381.69 237.81L384.29 242.61H379.09Z" fill="none" stroke="#1f7fc0" stroke-width="1.1"/><path d="M399.93 239.88L402.53 244.68H397.33Z" fill="none" stroke="#1f7fc0" stroke-width="1.1"/><path d="M418.17 248.57L420.77 253.37H415.57Z" fill="none" stroke="#1f7fc0" stroke-width="1.1"/><path d="M436.42 256.31L439.02 261.11H433.82Z" fill="none" stroke="#1f7fc0" stroke-width="1.1"/><path d="M454.66 265.77L457.26 270.57H452.06Z" fill="none" stroke="#1f7fc0" stroke-width="1.1"/><path d="M472.90 272.08L475.50 276.88H470.30Z" fill="none" stroke="#1f7fc0" stroke-width="1.1"/><path d="M491.14 279.96L493.74 284.76H488.54Z" fill="none" stroke="#1f7fc0" stroke-width="1.1"/>
</g>
<text transform="translate(89.60 34.60) scale(0.945 1)" text-anchor="start" stroke="#000" stroke-width="0.3">T/T<tspan dy="5.2" font-size="12.7px">c</tspan><tspan dy="-5.2">=0.99</tspan></text>
<path d="M164.6 30.4H206.4" stroke="#e5251b" stroke-width="0.9" fill="none"/><path d="M164.6 28.099999999999998v4.6M206.4 28.099999999999998v4.6" stroke="#e5251b" stroke-width="0.7" fill="none"/>
<circle cx="185.40" cy="30.40" r="2.45" fill="#e5251b"/>
<text transform="translate(89.60 49.70) scale(0.945 1)" text-anchor="start" stroke="#000" stroke-width="0.3">T/T<tspan dy="5.2" font-size="12.7px">c</tspan><tspan dy="-5.2">=0.93</tspan></text>
<path d="M164.6 45.5H206.4" stroke="#e5251b" stroke-width="0.9" fill="none"/><path d="M164.6 43.2v4.6M206.4 43.2v4.6" stroke="#e5251b" stroke-width="0.7" fill="none"/>
<rect x="182.80" y="42.90" width="5.2" height="5.2" fill="#e5251b"/>
<text transform="translate(89.60 64.80) scale(0.945 1)" text-anchor="start" stroke="#000" stroke-width="0.3">T/T<tspan dy="5.2" font-size="12.7px">c</tspan><tspan dy="-5.2">=0.84</tspan></text>
<path d="M164.6 60.6H206.4" stroke="#e5251b" stroke-width="0.9" fill="none"/><path d="M164.6 58.300000000000004v4.6M206.4 58.300000000000004v4.6" stroke="#e5251b" stroke-width="0.7" fill="none"/>
<path d="M185.40 57.30L188.10 62.40H182.70Z" fill="#e5251b"/>
<text transform="translate(89.60 80.30) scale(0.945 1)" text-anchor="start" stroke="#000" stroke-width="0.3">T/T<tspan dy="5.2" font-size="12.7px">c</tspan><tspan dy="-5.2">=1.00</tspan></text>
<path d="M164.6 76.1H206.4" stroke="#1f7fc0" stroke-width="0.9" fill="none"/><path d="M164.6 73.8v4.6M206.4 73.8v4.6" stroke="#1f7fc0" stroke-width="0.7" fill="none"/>
<circle cx="185.40" cy="76.10" r="2.3" fill="none" stroke="#1f7fc0" stroke-width="1.3"/>
<text transform="translate(89.60 95.30) scale(0.945 1)" text-anchor="start" stroke="#000" stroke-width="0.3">T/T<tspan dy="5.2" font-size="12.7px">c</tspan><tspan dy="-5.2">=0.94</tspan></text>
<path d="M164.6 91.1H206.4" stroke="#1f7fc0" stroke-width="0.9" fill="none"/><path d="M164.6 88.8v4.6M206.4 88.8v4.6" stroke="#1f7fc0" stroke-width="0.7" fill="none"/>
<rect x="183.10" y="88.40" width="4.6" height="5.3" rx="0.5" fill="none" stroke="#1f7fc0" stroke-width="1.1"/>
<text transform="translate(89.60 110.20) scale(0.945 1)" text-anchor="start" stroke="#000" stroke-width="0.3">T/T<tspan dy="5.2" font-size="12.7px">c</tspan><tspan dy="-5.2">=0.86</tspan></text>
<path d="M164.6 106.0H206.4" stroke="#1f7fc0" stroke-width="0.9" fill="none"/><path d="M164.6 103.7v4.6M206.4 103.7v4.6" stroke="#1f7fc0" stroke-width="0.7" fill="none"/>
<path d="M185.40 103.00L188.00 107.80H182.80Z" fill="none" stroke="#1f7fc0" stroke-width="1.1"/>
</svg>
</body></html>
